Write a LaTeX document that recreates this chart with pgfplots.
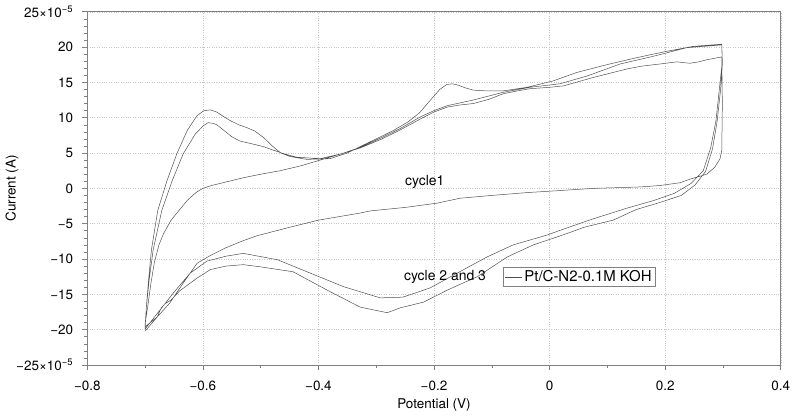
\documentclass[border=0pt]{standalone}
\usepackage{pgfplots}
\pgfplotsset{compat=1.18}
\usepackage{fontspec}
\setmainfont{TeX Gyre Heros}
\definecolor{curve}{HTML}{505050}
\definecolor{axgray}{HTML}{808080}
\begin{document}
\begin{tikzpicture}
\begin{axis}[name=ax, scale only axis, width=693.4bp, height=353.3bp,
  xmin=-0.8, xmax=0.4, ymin=-25, ymax=25,
  xtick={-0.8,-0.6,-0.4,-0.2,0,0.2,0.4},
  xticklabels={−0.8,−0.6,−0.4,−0.2,0,0.2,0.4},
  minor xtick={-0.7,-0.5,-0.3,-0.1,0.1,0.3},
  ytick={-25,-20,-15,-10,-5,0,5,10,15,20,25},
  yticklabels={{−25×10\textsuperscript{−5}},−20,−15,−10,−5,0,5,10,15,20,{25×10\textsuperscript{−5}}},
  minor y tick num=4,
  tick align=outside, tick pos=left,
  major tick length=5bp, minor tick length=3bp,
  grid=major, major grid style={axgray!45, dotted},
  axis line style={axgray, line width=0.6pt},
  every tick/.style={axgray, line width=0.5pt},
  tick label style={font=\fontsize{13.5}{16}\selectfont},
  xticklabel style={anchor=center, yshift=-16bp},
  yticklabel style={anchor=east, inner sep=0pt, xshift=-9bp},
  xlabel={Potential (V)}, ylabel={Current (A)},
  label style={font=\fontsize{13.5}{16}\selectfont},
  xlabel style={at={(axis description cs:0.5,-0.113)}, anchor=center},
  ylabel style={at={(axis description cs:-0.1086,0.5)}, anchor=center, rotate=0},
  legend style={at={(axis cs:-0.081,-11.2)}, anchor=north west, draw=axgray,
    font=\fontsize{15}{17}\selectfont, inner xsep=2bp, inner ysep=1bp},
  legend image code/.code={\draw[#1] (0bp,0bp) -- (17bp,0bp);},
]
\addplot[curve, line width=0.5pt] coordinates {
(-0.700,-19.2) (-0.695,-16.5) (-0.690,-13.5) (-0.684,-10.5) (-0.676,-8.0)
(-0.668,-6.4) (-0.655,-4.5) (-0.640,-3.0) (-0.627,-1.7) (-0.612,-0.6)
(-0.600,0.0) (-0.585,0.4) (-0.570,0.7) (-0.550,1.1) (-0.530,1.5)
(-0.500,2.0) (-0.466,2.5) (-0.430,3.2) (-0.397,4.0) (-0.360,4.9)
(-0.328,5.7) (-0.290,7.0) (-0.260,8.2) (-0.224,9.8) (-0.200,10.8)
(-0.177,11.5) (-0.155,11.8) (-0.132,12.0) (-0.105,12.6) (-0.080,13.4)
(-0.055,13.8) (-0.034,14.1) (0.000,14.3) (0.024,14.5) (0.050,15.1)
(0.076,15.7) (0.105,16.3) (0.134,16.9) (0.160,17.3) (0.191,17.6)
(0.220,17.9) (0.243,17.7) (0.258,17.9) (0.272,18.2) (0.298,18.6)
(0.299,12.0) (0.298,5.4) (0.295,4.2) (0.286,3.0) (0.272,2.0)
(0.243,1.3) (0.226,0.8) (0.191,0.4) (0.157,0.2) (0.120,0.1)
(0.076,0.0) (0.020,-0.3) (-0.039,-0.6) (-0.100,-1.0) (-0.155,-1.4)
(-0.195,-2.1) (-0.250,-2.7) (-0.311,-3.2) (-0.328,-3.5) (-0.400,-4.5)
(-0.454,-5.6) (-0.506,-6.7) (-0.530,-7.4) (-0.560,-8.4) (-0.587,-9.5)
(-0.610,-10.6) (-0.622,-12.0) (-0.634,-13.4) (-0.657,-16.2) (-0.679,-18.2)
(-0.700,-19.6)
(-0.698,-17.0) (-0.694,-13.0) (-0.689,-8.7) (-0.678,-3.1) (-0.662,1.1)
(-0.645,4.9) (-0.627,8.2) (-0.610,10.3) (-0.598,11.0) (-0.587,11.1)
(-0.576,10.8) (-0.565,10.2) (-0.553,9.6) (-0.538,9.0) (-0.524,8.6)
(-0.510,8.1) (-0.495,7.2) (-0.480,6.0) (-0.465,5.0) (-0.449,4.5)
(-0.420,4.1) (-0.380,4.2) (-0.350,5.0) (-0.328,5.9)
(-0.300,7.0) (-0.270,8.2) (-0.245,9.4) (-0.225,10.7) (-0.205,12.6)
(-0.190,14.0) (-0.178,14.7) (-0.168,14.8) (-0.158,14.6) (-0.145,14.2) (-0.132,13.9)
(-0.110,13.8) (-0.080,13.8) (-0.039,14.3) (0.006,15.2) (0.047,16.4) (0.099,17.5)
(0.151,18.5) (0.203,19.4) (0.249,20.1) (0.298,20.4)
(0.299,18.0) (0.294,14.2) (0.288,9.6) (0.279,5.8) (0.266,2.5)
(0.245,0.7) (0.216,-0.7) (0.181,-1.7) (0.134,-2.8) (0.076,-4.3)
(0.030,-5.6) (-0.004,-6.6) (-0.063,-8.0) (-0.108,-9.7) (-0.160,-12.0)
(-0.207,-14.1) (-0.254,-15.4) (-0.293,-15.5) (-0.357,-13.9) (-0.414,-12.0)
(-0.471,-10.1) (-0.530,-9.2) (-0.560,-9.6) (-0.593,-10.3) (-0.622,-12.0)
(-0.651,-14.8) (-0.674,-17.2) (-0.700,-19.9)
(-0.698,-17.0) (-0.693,-13.0) (-0.686,-8.7) (-0.671,-3.1) (-0.653,1.1)
(-0.634,4.9) (-0.613,7.7) (-0.600,8.8) (-0.591,9.3) (-0.582,9.2) (-0.576,9.0)
(-0.565,8.3) (-0.550,7.3) (-0.536,6.7) (-0.515,6.3) (-0.495,5.9)
(-0.478,5.4) (-0.460,4.9) (-0.437,4.4)
(-0.397,4.2) (-0.360,4.9) (-0.328,5.8) (-0.290,7.2) (-0.260,8.4)
(-0.224,10.1) (-0.200,11.0) (-0.177,11.7) (-0.132,12.5) (-0.080,13.6)
(-0.034,14.3) (0.018,14.8) (0.065,15.9) (0.122,17.6) (0.180,18.7)
(0.237,19.9) (0.298,20.3)
(0.299,17.5) (0.296,14.0) (0.290,9.5) (0.282,5.6) (0.270,2.4)
(0.252,0.5) (0.228,-1.0) (0.191,-2.0) (0.150,-3.0) (0.110,-4.5)
(0.060,-5.5) (0.030,-6.4) (-0.028,-8.0) (-0.073,-9.7) (-0.125,-12.5)
(-0.177,-14.4) (-0.218,-16.1) (-0.258,-16.9) (-0.281,-17.6) (-0.328,-16.8)
(-0.385,-14.4) (-0.444,-11.8) (-0.501,-11.1) (-0.530,-10.8) (-0.560,-11.0)
(-0.587,-11.5) (-0.610,-12.7) (-0.640,-14.5) (-0.655,-15.8) (-0.665,-16.3)
(-0.672,-16.9) (-0.679,-18.2) (-0.700,-20.2)
};
\addlegendentry{Pt/C-N2-0.1M KOH}
\node[font=\fontsize{14}{16}\selectfont] at (axis cs:-0.216,0.85) {cycle1};
\node[font=\fontsize{14}{16}\selectfont] at (axis cs:-0.181,-12.5) {cycle 2 and 3};
\end{axis}
\pgfresetboundingbox
\path[use as bounding box] ([shift={(-87.3bp,-51bp)}]ax.south west) rectangle ([shift={(19.3bp,11.7bp)}]ax.north east);
\end{tikzpicture}
\end{document}
